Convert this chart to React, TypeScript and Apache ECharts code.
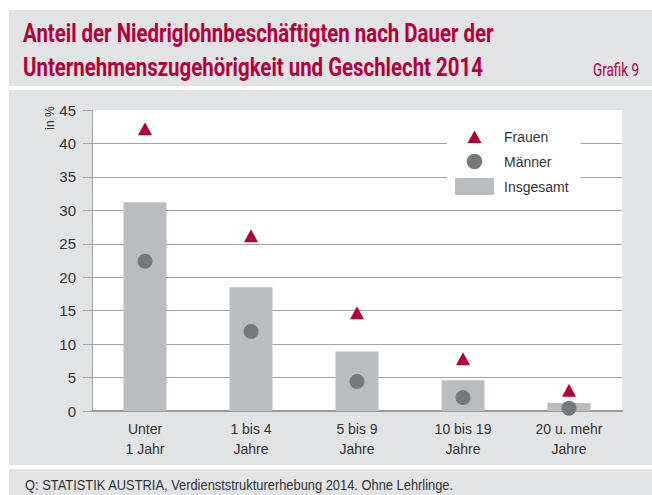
import React, { useEffect, useRef } from "react";
import * as echarts from "echarts";

const categories = ["Unter\n1 Jahr", "1 bis 4\nJahre", "5 bis 9\nJahre", "10 bis 19\nJahre", "20 u. mehr\nJahre"];
const insgesamt = [31.2, 18.5, 8.9, 4.6, 1.2];
const maenner = [22.4, 11.9, 4.4, 2.0, 0.4];
const frauen = [42.2, 26.2, 14.7, 7.8, 3.1];

const titleLine1 = "Anteil der Niedriglohnbeschäftigten nach Dauer der";
const titleLine2 = "Unternehmenszugehörigkeit und Geschlecht 2014";
const grafikText = "Grafik 9";
const sourceText = "Q: STATISTIK AUSTRIA, Verdienststrukturerhebung 2014. Ohne Lehrlinge.";
const unitText = "in %";
const legendNames = ["Frauen", "Männer", "Insgesamt"];

const RED = "#b3003c";
const GREY_DOT = "#77787b";
const GREY_BAR = "#bbbcc0";
const PANEL = "#e2e3e5";
const GRID = "#a3a3a3";
const TXT = "#333333";
const SANS = "'Liberation Sans', Arial, sans-serif";
const TITLE_FONT = "Roboto, 'Liberation Sans', sans-serif";

function measure(text: string, font: string): number {
  const ctx = document.createElement("canvas").getContext("2d");
  if (!ctx) return 1;
  ctx.font = font;
  return ctx.measureText(text).width || 1;
}

// legend icons: invisible moveTo points fix the box to 39x17 so the marks keep their size
const TRI_ICON = "path://M0,0M39,17M19.5,2.5L26.5,15L12.5,15Z";
const DOT_ICON = "path://M0,0M39,17M11.7,8.5A7.8,7.8,0,1,1,27.3,8.5A7.8,7.8,0,1,1,11.7,8.5Z";

export default function App() {
  const ref = useRef<HTMLDivElement>(null);
  useEffect(() => {
    if (!ref.current) return;
    const chart = echarts.init(ref.current, null, { renderer: "svg" });

    const tFont = `bold 26px ${TITLE_FONT}`;
    const s1 = 475 / measure(titleLine1, tFont);
    const s2 = 456 / measure(titleLine2, tFont);
    const tScale = (s1 + s2) / 2;
    const gFont = `19px ${TITLE_FONT}`;
    const gScale = 46 / measure(grafikText, gFont);
    const fFont = `15px ${SANS}`;
    const fScale = 429 / measure(sourceText, fFont);

    chart.setOption({
      animation: false,
      backgroundColor: "#ffffff",
      graphic: [
        { type: "rect", z: -1, shape: { x: 9, y: 10, width: 643, height: 76 }, style: { fill: PANEL } },
        { type: "rect", z: -1, shape: { x: 9, y: 90, width: 643, height: 375 }, style: { fill: PANEL } },
        { type: "rect", z: -1, shape: { x: 9, y: 469, width: 643, height: 30 }, style: { fill: PANEL } },
        {
          type: "text",
          x: 23,
          y: 33,
          scaleX: tScale,
          style: { text: titleLine1, font: tFont, fill: RED, verticalAlign: "middle", align: "left" },
        },
        {
          type: "text",
          x: 23,
          y: 67,
          scaleX: tScale,
          style: { text: titleLine2, font: tFont, fill: RED, verticalAlign: "middle", align: "left" },
        },
        {
          type: "text",
          x: 639,
          y: 70,
          scaleX: gScale,
          style: { text: grafikText, font: gFont, fill: RED, verticalAlign: "middle", align: "right" },
        },
        {
          type: "text",
          x: 25,
          y: 485,
          scaleX: fScale,
          style: { text: sourceText, font: fFont, fill: TXT, verticalAlign: "middle", align: "left" },
        },
        {
          type: "text",
          x: 50,
          y: 118,
          rotation: Math.PI / 2,
          style: { text: unitText, font: `12px ${SANS}`, fill: TXT, verticalAlign: "middle", align: "center" },
        },
      ],
      legend: {
        orient: "vertical",
        left: 447,
        top: 121,
        backgroundColor: "#ffffff",
        padding: [7, 12, 7, 8],
        itemWidth: 39,
        itemHeight: 17,
        itemGap: 8,
        symbolKeepAspect: true,
        data: [
          { name: legendNames[0], icon: TRI_ICON },
          { name: legendNames[1], icon: DOT_ICON },
          { name: legendNames[2], icon: "rect" },
        ],
        textStyle: { fontFamily: SANS, fontSize: 14, color: TXT, padding: [0, 0, 0, 5] },
      },
      grid: {
        left: 92,
        right: 30,
        top: 110,
        bottom: 84,
        show: true,
        backgroundColor: "#ffffff",
        borderWidth: 0,
      },
      xAxis: {
        type: "category",
        data: categories,
        axisLine: { show: true, lineStyle: { color: "#9a9a9a", width: 2 } },
        axisTick: { show: false },
        axisLabel: { interval: 0, fontFamily: SANS, fontSize: 14, lineHeight: 20, color: TXT, margin: 8 },
      },
      yAxis: {
        type: "value",
        min: 0,
        max: 45,
        interval: 5,
        axisLine: { show: true, lineStyle: { color: GRID, width: 1 } },
        axisTick: { show: true, length: 9, lineStyle: { color: GRID } },
        axisLabel: { fontFamily: SANS, fontSize: 15, color: TXT, margin: 16 },
        splitLine: { show: true, showMaxLine: false, lineStyle: { color: GRID, width: 1 } },
      },
      series: [
        {
          name: legendNames[2],
          type: "bar",
          data: insgesamt,
          barWidth: 43,
          itemStyle: { color: GREY_BAR },
          z: 2,
        },
        {
          name: legendNames[1],
          type: "scatter",
          data: maenner,
          symbol: "circle",
          symbolSize: 15,
          itemStyle: { color: GREY_DOT, opacity: 1 },
          z: 3,
        },
        {
          name: legendNames[0],
          type: "scatter",
          data: frauen,
          symbol: "triangle",
          symbolSize: [14, 13],
          itemStyle: { color: RED, opacity: 1 },
          z: 3,
        },
      ],
    });
    return () => chart.dispose();
  }, []);
  return <div ref={ref} style={{ position: "fixed", left: 0, top: 0, width: 652, height: 495 }} />;
}
